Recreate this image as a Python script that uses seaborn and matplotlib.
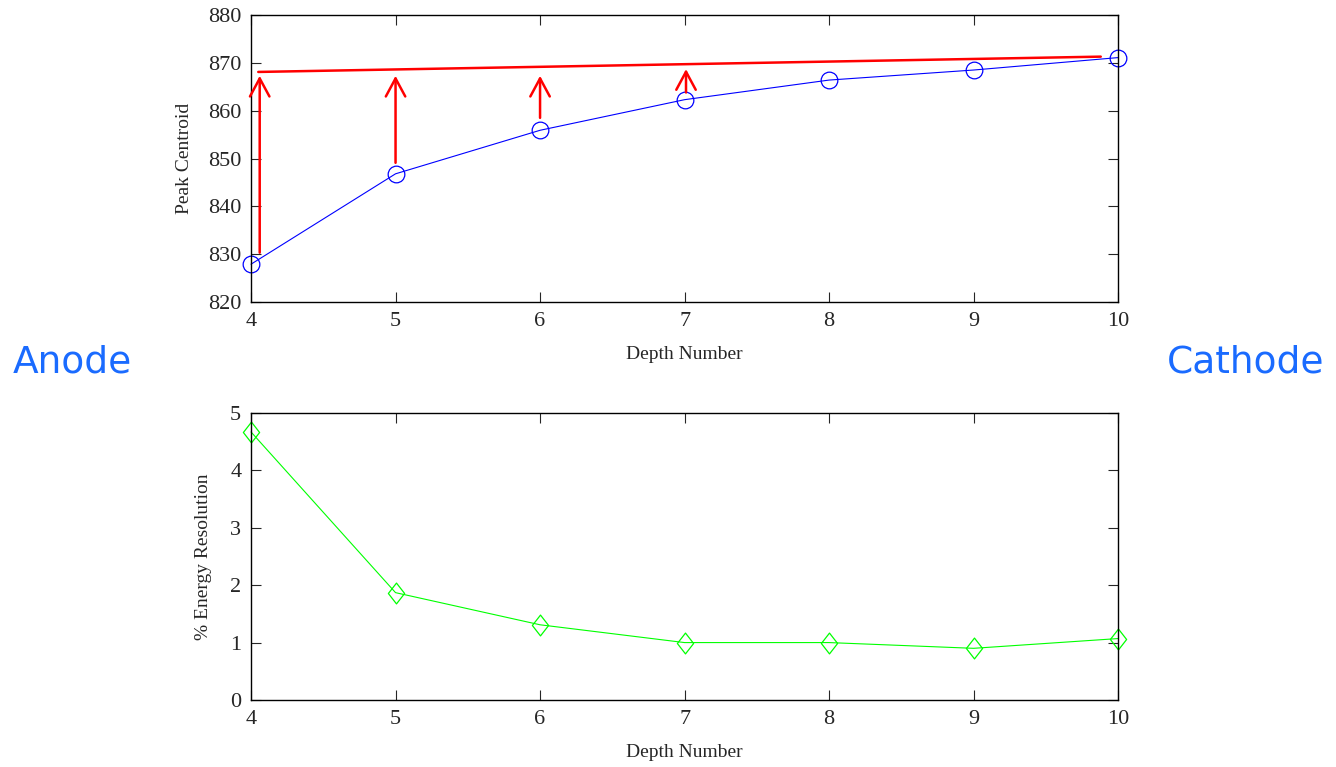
import numpy as np
import seaborn as sns
import matplotlib.pyplot as plt
from matplotlib.path import Path

# Datos
depth = [4, 5, 6, 7, 8, 9, 10]
centroid = [827.9, 846.8, 855.9, 862.3, 866.4, 868.5, 871.1]
resolution = [4.67, 1.87, 1.31, 1.00, 1.00, 0.90, 1.07]

# linea roja de referencia y flechas de correccion
ref_x = [4.05, 9.88]
ref_y = [868.1, 871.3]
arrow_x = [4.06, 5.0, 6.0, 7.01]
arrow_from = [830.3, 849.1, 858.5, 863.8]
arrow_to = [867.3, 867.3, 867.3, 868.7]

sns.set_style("ticks")
plt.rcParams['font.family'] = ['Liberation Serif', 'DejaVu Serif']
plt.rcParams['xtick.direction'] = 'in'
plt.rcParams['ytick.direction'] = 'in'
plt.rcParams['xtick.major.size'] = 7
plt.rcParams['ytick.major.size'] = 7
plt.rcParams['xtick.major.width'] = 0.8
plt.rcParams['ytick.major.width'] = 0.8
plt.rcParams['axes.linewidth'] = 1.0
plt.rcParams['axes.edgecolor'] = 'black'

fig = plt.figure(figsize=(13.36, 7.67), dpi=100)
ax1 = fig.add_axes([0.1879, 0.6063, 0.649, 0.3741])
ax2 = fig.add_axes([0.1879, 0.0874, 0.649, 0.3741])

# Peak centroid
sns.lineplot(x=depth, y=centroid, ax=ax1, color='blue', lw=0.8, marker='o',
             markersize=12, markerfacecolor='none', markeredgecolor='blue',
             markeredgewidth=0.9, clip_on=False)
ax1.plot(ref_x, ref_y, color='red', lw=1.8)
for x, y0, y1 in zip(arrow_x, arrow_from, arrow_to):
    ax1.annotate('', xy=(x, y1), xytext=(x, y0),
                 arrowprops=dict(arrowstyle='->,head_length=1.3,head_width=0.7',
                                 color='red', lw=1.8, shrinkA=0, shrinkB=0))
ax1.set_xlim(4, 10)
ax1.set_ylim(820, 880)
ax1.set_yticks(range(820, 881, 10))
ax1.set_ylabel('Peak Centroid', fontsize=14, labelpad=11)
ax1.set_xlabel('Depth Number', fontsize=14, labelpad=11)

# Energy resolution
diamond = Path([(0, 1), (0.78, 0), (0, -1), (-0.78, 0), (0, 1)],
               [Path.MOVETO, Path.LINETO, Path.LINETO, Path.LINETO, Path.CLOSEPOLY])
sns.lineplot(x=depth, y=resolution, ax=ax2, color='#00ff00', lw=0.8, marker=diamond,
             markersize=15, markerfacecolor='none', markeredgecolor='#00ff00',
             markeredgewidth=0.9, clip_on=False)
ax2.set_xlim(4, 10)
ax2.set_ylim(0, 5)
ax2.set_ylabel('% Energy Resolution', fontsize=14, labelpad=13)
ax2.set_xlabel('Depth Number', fontsize=14, labelpad=11)

for ax in (ax1, ax2):
    ax.set_xticks(depth)
    ax.tick_params(top=True, right=True, labelsize=16, pad=7)
    for s in ax.spines.values():
        s.set_visible(True)

fig.text(0.054, 0.528, 'Anode', fontsize=27, color='#1a6bff',
         family='DejaVu Sans', ha='center', va='center')
fig.text(0.932, 0.528, 'Cathode', fontsize=27, color='#1a6bff',
         family='DejaVu Sans', ha='center', va='center')

fig.savefig('out.png', dpi=100)
